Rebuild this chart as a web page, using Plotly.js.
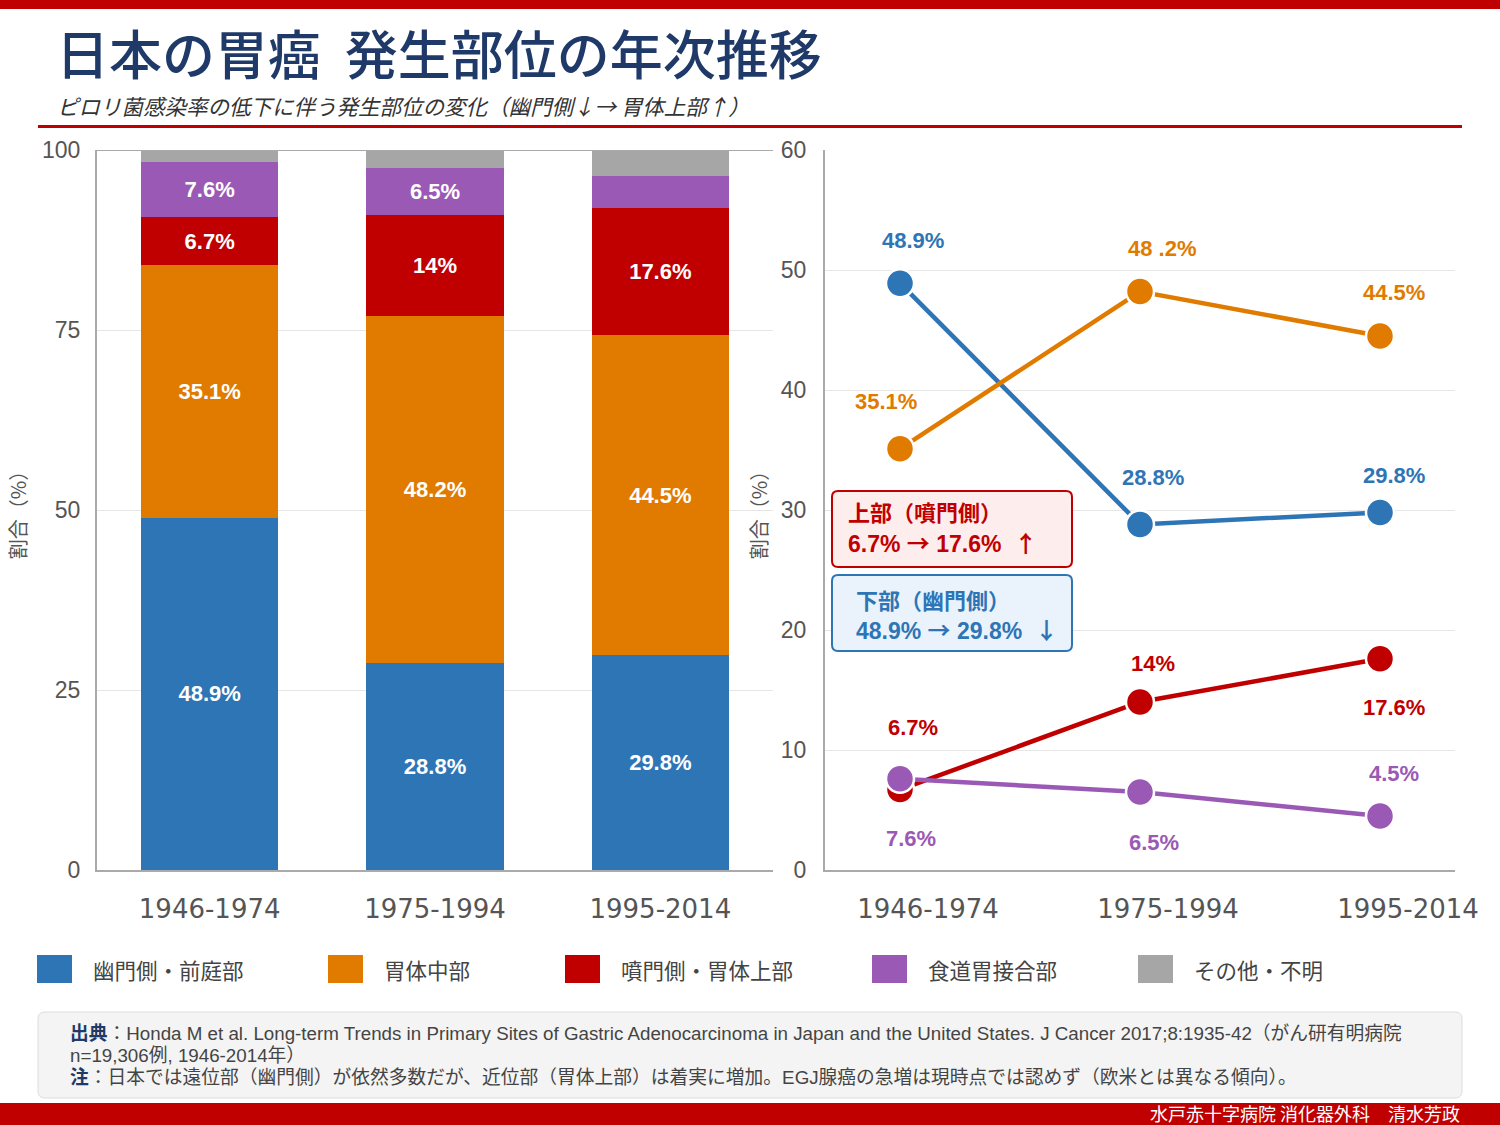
<!DOCTYPE html>
<html>
<head>
<meta charset="utf-8">
<script src="https://cdn.plot.ly/plotly-3.0.1.min.js"></script>
<style>
  html, body { margin: 0; padding: 0; background: #ffffff; }
  #chart { width: 1500px; height: 1125px; }
</style>
</head>
<body>
<div id="chart"></div>
<script>
// ---- data ----
const categories = ['1946-1974', '1975-1994', '1995-2014'];
const pyloric = [48.9, 28.8, 29.8];      // 幽門側・前庭部
const middleBody = [35.1, 48.2, 44.5];   // 胃体中部
const cardia = [6.7, 14, 17.6];          // 噴門側・胃体上部
const egj = [7.6, 6.5, 4.5];             // 食道胃接合部
const otherUnknown = [1.7, 2.5, 3.6];    // その他・不明
const seriesNames = ['幽門側・前庭部', '胃体中部', '噴門側・胃体上部', '食道胃接合部', 'その他・不明'];
const seriesColors = ['#2e75b6', '#e07b00', '#c00000', '#9b59b6', '#a6a6a6'];
const barLabelShown = [
  [true, true, true],
  [true, true, true],
  [true, true, true],
  [true, true, false],
  [false, false, false]
];
const lineLabels = {
  pyloric: ['48.9%', '28.8%', '29.8%'],
  middleBody: ['35.1%', '48 .2%', '44.5%'],
  cardia: ['6.7%', '14%', '17.6%'],
  egj: ['7.6%', '6.5%', '4.5%']
};
const yTicksLeft = [0, 25, 50, 75, 100];
const yTicksRight = [0, 10, 20, 30, 40, 50, 60];

// ---- helpers ----
const W = 1500, H = 1125;
const px = x => x / W;
const py = y => 1 - y / H;
const FONT = "'Liberation Sans', Arial, 'Noto Sans CJK JP', sans-serif";
const CJK = "'Noto Sans CJK JP', 'Liberation Sans', sans-serif";
const TICKX = "'DejaVu Sans', 'Liberation Sans', sans-serif";

function roundRect(x0, y0, x1, y1, r) {
  const rx = r / W, ry = r / H;
  const X0 = px(x0), X1 = px(x1), Y0 = py(y0), Y1 = py(y1);
  return `M${X0 + rx},${Y0} L${X1 - rx},${Y0} Q${X1},${Y0} ${X1},${Y0 - ry} ` +
         `L${X1},${Y1 + ry} Q${X1},${Y1} ${X1 - rx},${Y1} L${X0 + rx},${Y1} ` +
         `Q${X0},${Y1} ${X0},${Y1 + ry} L${X0},${Y0 - ry} Q${X0},${Y0} ${X0 + rx},${Y0} Z`;
}

const allSeries = [pyloric, middleBody, cardia, egj, otherUnknown];

// ---- bar traces ----
const traces = allSeries.map((vals, i) => ({
  type: 'bar',
  x: categories,
  y: vals,
  name: seriesNames[i],
  marker: { color: seriesColors[i], line: { width: 0 } },
  text: vals.map((v, j) => barLabelShown[i][j] ? v + '%' : ''),
  textposition: 'inside',
  insidetextanchor: 'middle',
  constraintext: 'none',
  textangle: 0,
  textfont: { family: FONT, size: 22, color: '#ffffff', weight: 'bold' },
  hoverinfo: 'skip',
  showlegend: false,
  xaxis: 'x', yaxis: 'y'
}));

// ---- line traces ----
const lineSeries = [pyloric, middleBody, cardia, egj];
lineSeries.forEach((vals, i) => {
  traces.push({
    type: 'scatter',
    mode: 'lines+markers',
    x: categories,
    y: vals,
    name: seriesNames[i],
    line: { color: seriesColors[i], width: 4.5 },
    marker: { color: seriesColors[i], size: 28, line: { color: '#ffffff', width: 2.5 } },
    showlegend: false,
    hoverinfo: 'skip',
    xaxis: 'x2', yaxis: 'y2'
  });
});

// ---- line labels as annotations ----
const annotations = [];
const labelSets = [
  { vals: pyloric, labels: lineLabels.pyloric, color: seriesColors[0], ys: [43, 47, 37], dx: [13, 13, 14] },
  { vals: middleBody, labels: lineLabels.middleBody, color: seriesColors[1], ys: [47, 43, 44], dx: [-14, 22, 14] },
  { vals: cardia, labels: lineLabels.cardia, color: seriesColors[2], ys: [62, 39, -49], dx: [13, 13, 14] },
  { vals: egj, labels: lineLabels.egj, color: seriesColors[3], ys: [-60, -50, 43], dx: [11, 14, 14] }
];
labelSets.forEach(s => {
  s.vals.forEach((v, j) => {
    annotations.push({
      xref: 'x2', yref: 'y2', x: categories[j], y: v,
      text: '<b>' + s.labels[j] + '</b>',
      showarrow: false, xshift: s.dx[j], yshift: s.ys[j],
      font: { family: FONT, size: 22, color: s.color }
    });
  });
});

const ARROW = "font-family:'Noto Sans CJK JP'";

// ---- titles & texts ----
annotations.push(
  { xref: 'paper', yref: 'paper', x: px(54), y: py(52), xanchor: 'left', yanchor: 'middle',
    text: '日本の胃癌&nbsp;&nbsp;発生部位の年次推移', showarrow: false,
    font: { family: CJK, size: 53, color: '#1f3a68', weight: 500 } },
  { xref: 'paper', yref: 'paper', x: px(55), y: py(106), xanchor: 'left', yanchor: 'middle',
    text: '<i>ピロリ菌感染率の低下に伴う発生部位の変化（幽門側↓→ 胃体上部↑）</i>', showarrow: false,
    font: { family: CJK, size: 21.5, color: '#333333' } },
  // info boxes text
  { xref: 'paper', yref: 'paper', x: px(846), y: py(511), xanchor: 'left', yanchor: 'middle',
    text: '<b>上部（噴門側）</b>', showarrow: false, font: { family: CJK, size: 22, color: '#c00000' } },
  { xref: 'paper', yref: 'paper', x: px(846), y: py(542), xanchor: 'left', yanchor: 'middle',
    text: `<b>6.7% <span style="${ARROW}">→</span> 17.6%&nbsp;&nbsp;<span style="${ARROW}">↑</span></b>`, showarrow: false, font: { family: FONT, size: 23, color: '#c00000' } },
  { xref: 'paper', yref: 'paper', x: px(854), y: py(599), xanchor: 'left', yanchor: 'middle',
    text: '<b>下部（幽門側）</b>', showarrow: false, font: { family: CJK, size: 22, color: '#2e75b6' } },
  { xref: 'paper', yref: 'paper', x: px(854), y: py(629), xanchor: 'left', yanchor: 'middle',
    text: `<b>48.9% <span style="${ARROW}">→</span> 29.8%&nbsp;&nbsp;<span style="${ARROW}">↓</span></b>`, showarrow: false, font: { family: FONT, size: 23, color: '#2e75b6' } },
  // footnote
  { xref: 'paper', yref: 'paper', x: px(68), y: py(1033), xanchor: 'left', yanchor: 'middle',
    text: '<b><span style="color:#1f3a68">出典</span></b>：Honda M et al. Long-term Trends in Primary Sites of Gastric Adenocarcinoma in Japan and the United States. J Cancer 2017;8:1935-42（がん研有明病院',
    showarrow: false, font: { family: FONT, size: 18.75, color: '#444444' } },
  { xref: 'paper', yref: 'paper', x: px(68), y: py(1055), xanchor: 'left', yanchor: 'middle',
    text: 'n=19,306例, 1946-2014年）',
    showarrow: false, font: { family: FONT, size: 18.75, color: '#444444' } },
  { xref: 'paper', yref: 'paper', x: px(68), y: py(1077), xanchor: 'left', yanchor: 'middle',
    text: '<b><span style="color:#1f3a68">注</span></b>：日本では遠位部（幽門側）が依然多数だが、近位部（胃体上部）は着実に増加。EGJ腺癌の急増は現時点では認めず（欧米とは異なる傾向）。',
    showarrow: false, font: { family: FONT, size: 18.75, color: '#444444' } },
  { xref: 'paper', yref: 'paper', x: px(1462), y: py(1113), xanchor: 'right', yanchor: 'middle',
    text: '水戸赤十字病院 消化器外科　清水芳政', showarrow: false,
    font: { family: CJK, size: 18, color: '#ffffff' } }
);

// ---- custom legend ----
const legendX = [37, 328, 565, 872, 1138];
const shapes = [];
seriesNames.forEach((n, i) => {
  shapes.push({ type: 'rect', xref: 'paper', yref: 'paper',
    x0: px(legendX[i]), x1: px(legendX[i] + 35), y0: py(983), y1: py(955),
    fillcolor: seriesColors[i], line: { width: 0 } });
  annotations.push({ xref: 'paper', yref: 'paper', x: px(legendX[i] + 54), y: py(969),
    xanchor: 'left', yanchor: 'middle', text: n, showarrow: false,
    font: { family: CJK, size: 21.5, color: '#444444' } });
});

// decorative shapes
shapes.push(
  { type: 'rect', xref: 'paper', yref: 'paper', x0: 0, x1: 1, y0: py(9), y1: 1, fillcolor: '#c00000', line: { width: 0 }, layer: 'below' },
  { type: 'rect', xref: 'paper', yref: 'paper', x0: px(38), x1: px(1462), y0: py(128), y1: py(125), fillcolor: '#c00000', line: { width: 0 } },
  { type: 'rect', xref: 'paper', yref: 'paper', x0: 0, x1: 1, y0: 0, y1: py(1103), fillcolor: '#c00000', line: { width: 0 }, layer: 'below' },
  { type: 'path', xref: 'paper', yref: 'paper', path: roundRect(38, 1012, 1462, 1098, 7), fillcolor: '#f4f4f4', line: { color: '#dddddd', width: 1 }, layer: 'below' },
  { type: 'path', xref: 'paper', yref: 'paper', path: roundRect(832, 491, 1072, 567, 6), fillcolor: '#fdeded', line: { color: '#c00000', width: 2 } },
  { type: 'path', xref: 'paper', yref: 'paper', path: roundRect(832, 575, 1072, 651, 6), fillcolor: '#eaf2fb', line: { color: '#2e75b6', width: 2 } },
  { type: 'line', xref: 'paper', yref: 'y', x0: px(97), x1: px(773), y0: 100, y1: 100, line: { color: '#aaaaaa', width: 2 } }
);

const axisTitleFont = { family: CJK, size: 20, color: '#555555' };
const layout = {
  width: W, height: H,
  margin: { l: 0, r: 0, t: 0, b: 0 },
  paper_bgcolor: '#ffffff', plot_bgcolor: '#ffffff',
  barmode: 'stack', bargap: 0.39,
  font: { family: FONT, color: '#555555' },
  showlegend: false,
  xaxis: {
    domain: [px(97), px(773)], anchor: 'y', type: 'category', range: [-0.5, 2.5],
    showline: true, linecolor: '#aaaaaa', linewidth: 2, showgrid: false, ticks: '',
    tickfont: { family: TICKX, size: 26, color: '#555555' }, ticklabelstandoff: 15, fixedrange: true
  },
  yaxis: {
    domain: [py(870), py(150)], anchor: 'x', range: [0, 100], tickvals: yTicksLeft,
    showline: true, linecolor: '#aaaaaa', linewidth: 2, gridcolor: '#e6e6e6', gridwidth: 1, zeroline: false,
    ticks: '', tickfont: { family: FONT, size: 23, color: '#555555' }, ticklabelstandoff: 10,
    title: { text: '割合（%）', font: axisTitleFont, standoff: 10 }, fixedrange: true
  },
  xaxis2: {
    domain: [px(825), px(1455)], anchor: 'y2', type: 'category', range: [-0.3125, 2.3125],
    showline: true, linecolor: '#aaaaaa', linewidth: 2, showgrid: false, ticks: '',
    tickfont: { family: TICKX, size: 26, color: '#555555' }, ticklabelstandoff: 15, ticklabelshift: 28, fixedrange: true
  },
  yaxis2: {
    domain: [py(870), py(150)], anchor: 'x2', range: [0, 60], tickvals: yTicksRight,
    showline: true, linecolor: '#aaaaaa', linewidth: 2, gridcolor: '#e6e6e6', gridwidth: 1, zeroline: false,
    ticks: '', tickfont: { family: FONT, size: 23, color: '#555555' }, ticklabelstandoff: 12,
    title: { text: '割合（%）', font: axisTitleFont, standoff: 8 }, fixedrange: true
  },
  shapes: shapes,
  annotations: annotations
};

Plotly.newPlot('chart', traces, layout, { displayModeBar: false, staticPlot: true });
</script>
</body>
</html>
